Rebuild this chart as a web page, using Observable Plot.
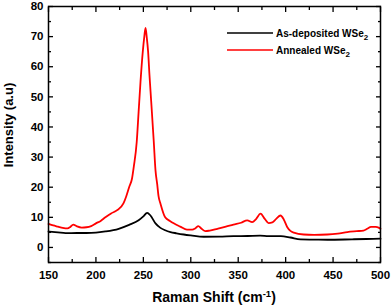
<!DOCTYPE html>
<html>
<head>
<meta charset="utf-8">
<script src="https://cdn.jsdelivr.net/npm/d3@7"></script>
<script src="https://cdn.jsdelivr.net/npm/@observablehq/plot@0.6"></script>
<style>
  html, body { margin: 0; padding: 0; background: #fff; }
  #chart svg { display: block; }
  #chart svg text { font-weight: bold; font-family: 'Liberation Sans', Arial, sans-serif; }
</style>
</head>
<body>
<div id="chart"></div>
<script>
// Raman shift (cm^-1) and intensity (a.u)
const annealedShift = [150,155,160,165,170,173,176,180,185,190,195,200,205,210,216,222,229,232,235,238,240,243,245,247,249.4,251,252.3,253.5,255,256.5,258.2,261,262.8,264.6,266,268,273,278,282,289,296,301.5,305,308,311,315.5,320,328,337,345,353,359.5,364.7,369,373.5,378,382,386,390,394.6,398,401.6,405,408.6,419,430,444,455,465,475,482,486,490,495,498,500];
const annealedIntensity = [7.8,7.3,6.9,6.5,6.3,6.8,7.6,7.0,6.6,6.7,7.1,8.0,8.8,10.0,11.3,12.3,14.6,17,20,22.8,27,35,45,55,65,70,72.9,70,65,57,48.8,35,25.6,21,17,14.6,10,8.8,8.0,6.9,5.9,5.9,6.4,7.1,6.3,5.4,5.6,6.2,6.9,7.6,8.2,9.0,8.4,9.5,11.2,9.5,8.1,8.3,9.5,10.6,9.3,6.8,5.5,4.9,4.3,4.2,4.3,4.6,5.1,5.4,5.6,6.2,6.8,6.8,6.6,6.2];

const asDepShift = [150,160,168,180,190,200,210,224,235,245,250,254,257.5,262.8,268,273,278.6,285,292.6,300,313.7,330,345,360,373,382,395,405,415.6,430,444,470,485,500];
const asDepIntensity = [5.3,5.0,4.75,4.8,4.8,4.9,5.3,6.2,7.5,9.0,10.3,11.5,10.6,8.0,6.5,5.7,5.1,4.7,4.3,4.0,3.55,3.6,3.75,3.8,3.9,3.75,3.75,3.3,2.65,2.6,2.55,2.7,2.8,2.9];

const xMajor = [150,200,250,300,350,400,450,500];
const xMinor = [175,225,275,325,375,425,475];
const yMajor = [0,10,20,30,40,50,60,70,80];
const yMinor = [-5,5,15,25,35,45,55,65,75];

const seriesNames = ["As-deposited WSe", "Annealed WSe"];
const seriesColors = ["#000000", "#ff0000"];

const annealed = annealedShift.map((x, i) => ({x, y: annealedIntensity[i]}));
const asDep = asDepShift.map((x, i) => ({x, y: asDepIntensity[i]}));

const font = "'Liberation Sans', Arial, sans-serif";

const plot = Plot.plot({
  width: 392,
  height: 306,
  marginLeft: 48,
  marginRight: 12,
  marginTop: 6,
  marginBottom: 44,
  style: {fontFamily: font, fontSize: "11.5px", fontWeight: "bold", color: "#000", background: "#fff"},
  x: {domain: [150, 500]},
  y: {domain: [-5, 80]},
  marks: [
    Plot.line(asDep, {x: "x", y: "y", stroke: seriesColors[0], strokeWidth: 1.8, curve: "monotone-x"}),
    Plot.line(annealed, {x: "x", y: "y", stroke: seriesColors[1], strokeWidth: 1.8, curve: "monotone-x"}),
    Plot.frame({stroke: "#000", strokeWidth: 1.5}),
    // bottom axis labels + inward ticks
    Plot.axisX({anchor: "bottom", ticks: xMajor, tickSize: 0, tickPadding: 8, tickFormat: d => d, label: null}),
    Plot.axisX({anchor: "bottom", ticks: xMajor, tickSize: -5, text: null, label: null, strokeWidth: 1.3}),
    Plot.axisX({anchor: "bottom", ticks: xMinor, tickSize: -3, text: null, label: null, strokeWidth: 1.3}),
    Plot.axisX({anchor: "top", ticks: xMajor, tickSize: -5, text: null, label: null, strokeWidth: 1.3}),
    Plot.axisX({anchor: "top", ticks: xMinor, tickSize: -3, text: null, label: null, strokeWidth: 1.3}),
    // left axis labels + inward ticks
    Plot.axisY({anchor: "left", ticks: yMajor, tickSize: 0, tickPadding: 5, tickFormat: d => d, label: null}),
    Plot.axisY({anchor: "left", ticks: yMajor, tickSize: -5, text: null, label: null, strokeWidth: 1.3}),
    Plot.axisY({anchor: "left", ticks: yMinor, tickSize: -3, text: null, label: null, strokeWidth: 1.3}),
    Plot.axisY({anchor: "right", ticks: yMajor, tickSize: -5, text: null, label: null, strokeWidth: 1.3}),
    Plot.axisY({anchor: "right", ticks: yMinor, tickSize: -3, text: null, label: null, strokeWidth: 1.3})
  ]
});

document.getElementById("chart").appendChild(plot);

// axis titles and legend (with subscript) added to the same svg
const svg = d3.select(plot);

const xt = svg.append("text")
  .attr("x", 214).attr("y", 302)
  .attr("text-anchor", "middle")
  .style("font-family", font).style("font-weight", "bold").style("font-size", "14px");
xt.append("tspan").text("Raman Shift (cm");
xt.append("tspan").attr("dy", -5).style("font-size", "9.5px").text("-1");
xt.append("tspan").attr("dy", 5).text(")");

svg.append("text")
  .attr("transform", "translate(13,125) rotate(-90)")
  .attr("text-anchor", "middle")
  .style("font-family", font).style("font-weight", "bold").style("font-size", "13px")
  .text("Intensity (a.u)");

const lg = svg.append("g");
seriesNames.forEach((name, i) => {
  const yy = 33 + i * 17;
  lg.append("line").attr("x1", 227).attr("x2", 273).attr("y1", yy).attr("y2", yy)
    .attr("stroke", seriesColors[i]).attr("stroke-width", 1.6);
  const t = lg.append("text").attr("x", 276).attr("y", yy + 3.5)
    .attr("text-anchor", "start")
    .style("font-family", font).style("font-weight", "bold").style("font-size", "10px");
  t.append("tspan").text(name);
  t.append("tspan").attr("dy", 3).style("font-size", "8px").text("2");
});
</script>
</body>
</html>
